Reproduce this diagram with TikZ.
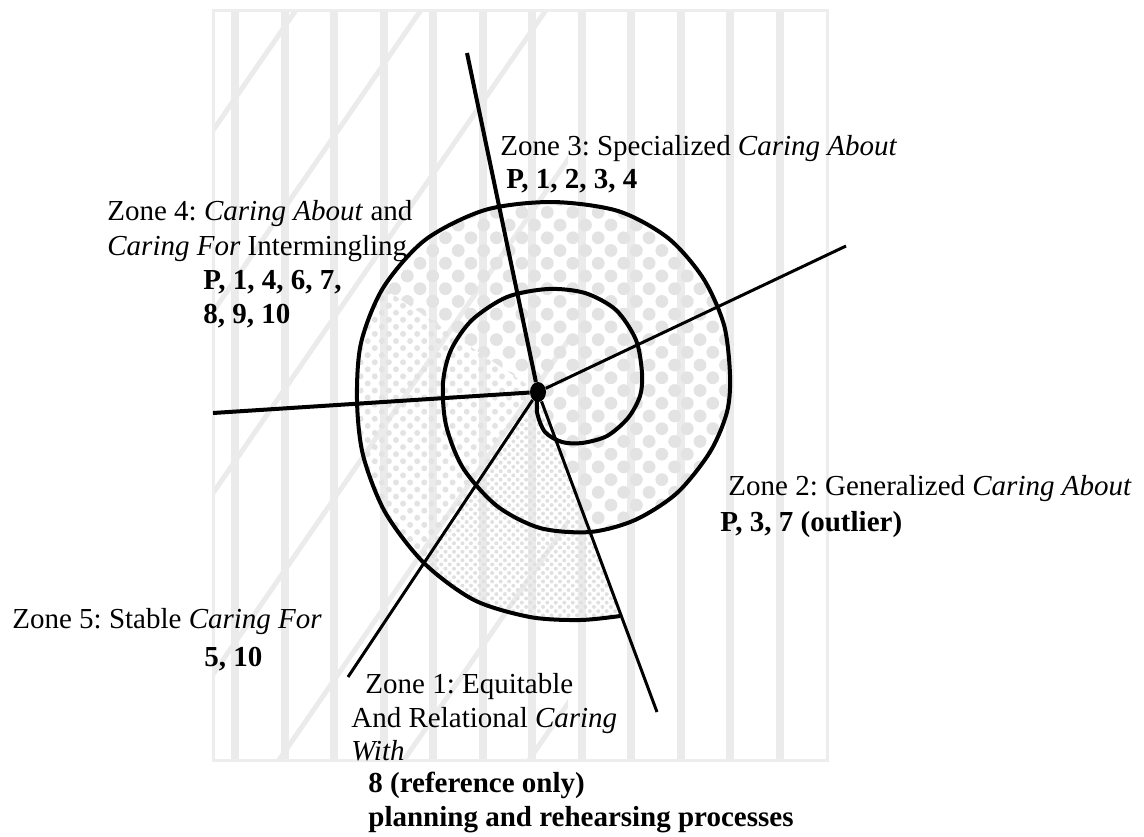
\documentclass[tikz,border=0pt]{standalone}
\usepackage{fontspec}
\setmainfont{Liberation Serif}
\frenchspacing
\usetikzlibrary{patterns.meta,shapes.geometric}

\tikzset{
  zonetext/.style={anchor=base west, inner sep=0pt, font=\fontsize{14.5}{17}\selectfont},
  ray/.style={line width=1.5pt},
  bigdots/.style={pattern={Dots[distance=9pt, radius=3.2pt, angle=45]}, pattern color=black!11},
  middots/.style={pattern={Dots[distance=5pt, radius=1.5pt, angle=45]}, pattern color=black!11},
  finedots/.style={pattern={Dots[distance=3pt, radius=1pt, angle=45]}, pattern color=black!12},
}

\begin{document}
\begin{tikzpicture}[x=0.5pt, y=-0.5pt]
    \useasboundingbox (0,0) rectangle (1144,836);

    % Faint background: stripes, slanted bars, frame
    \foreach \k in {0,...,11}
        \fill[black!8] (231+49.5*\k,10) rectangle (239+49.5*\k,760);
    \begin{scope}
        \clip (213,10) rectangle (568,760);
        \foreach \x in {-221,-96,29,154,279,404,529}
            \draw[black!8, line width=2.5pt] (\x,760) -- (\x+517,10);
    \end{scope}
    \draw[black!7, line width=1.5pt] (213,10) rectangle (827,760);

    % Dotted zones inside the last turn of the spiral
    \begin{scope}
        \clip plot[smooth] coordinates {(590,532) (635,520) (677,493) (710,452) (727,412)
            (730,375) (724,325) (703,278) (668,238) (618,211) (552,202) (485,210) (425,240)
            (383,288) (361,343) (357,400) (363,455) (385,512) (424,563) (474,600) (530,617)
            (580,620) (620,616)} -- cycle;
        \fill[bigdots] (538,392) -- (895,1352) -- (1300,1352) -- (1300,-400) -- (97,-400) -- (97,95) -- cycle;
        \fill[middots] (538,392) -- (97,95) -- (-400,95) -- (-400,1247) -- (-32,1247) -- cycle;
        \fill[finedots] (538,392) -- (-32,1247) -- (895,1352) -- cycle;
    \end{scope}

    % Spiral
    \draw[line width=2pt] plot[smooth] coordinates {(538,392) (537,412) (545,432) (562,442)
        (582,443) (607,436) (628,418) (640,396) (642,373) (636,340) (616,310) (585,293)
        (548,289) (507,297) (472,320) (451,350) (443,383) (446,425) (463,468) (497,506)
        (540,528) (590,532) (635,520) (677,493) (710,452) (727,412) (730,375) (724,325)
        (703,278) (668,238) (618,211) (552,202) (485,210) (425,240) (383,288) (361,343)
        (357,400) (363,455) (385,512) (424,563) (474,600) (530,617) (580,620) (620,616)};

    % Centre and rays
    \node[ellipse, fill, inner sep=0pt, minimum width=8pt, minimum height=10pt] (hub) at (538,392) {};
    \coordinate (topend) at (467,53);
    \coordinate (rightend) at (846,246);
    \coordinate (leftend) at (213,413);
    \coordinate (lowleftend) at (348,677);
    \coordinate (lowrightend) at (657,712);
    \draw[ray, line width=2pt] (hub) -- (topend);
    \draw[ray] (hub) -- (rightend);
    \draw[ray, line width=2pt] (hub) -- (leftend);
    \draw[ray] (hub) -- (lowleftend);
    \draw[ray] (hub) -- (lowrightend);

    % Zone labels
    \node[zonetext] (z3a) at (500,155) {Zone 3: Specialized \textit{Caring About}};
    \node[zonetext] (z3b) at (506,188) {\bfseries P, 1, 2, 3, 4};
    \node[zonetext] (z4a) at (107,220) {Zone 4: \textit{Caring About} and};
    \node[zonetext] (z4b) at (107,255) {\textit{Caring For} Intermingling};
    \node[zonetext] (z4c) at (203,289) {\bfseries P, 1, 4, 6, 7,};
    \node[zonetext] (z4d) at (203,323) {\bfseries 8, 9, 10};
    \node[zonetext] (z2a) at (728,495) {Zone 2: Generalized \textit{Caring About}};
    \node[zonetext] (z2b) at (720,531) {\bfseries P, 3, 7 (outlier)};
    \node[zonetext] (z5a) at (12,628) {Zone 5: Stable \textit{Caring For}};
    \node[zonetext] (z5b) at (204,666) {\bfseries 5, 10};
    \node[zonetext] (z1a) at (365,693) {Zone 1: Equitable};
    \node[zonetext] (z1b) at (351,727) {And Relational \textit{Caring}};
    \node[zonetext] (z1c) at (351,760) {\textit{With}};
    \node[zonetext] (z1d) at (368,792) {\bfseries 8 (reference only)};
    \node[zonetext] (z1e) at (368,826) {\bfseries planning and rehearsing processes};
\end{tikzpicture}
\end{document}
